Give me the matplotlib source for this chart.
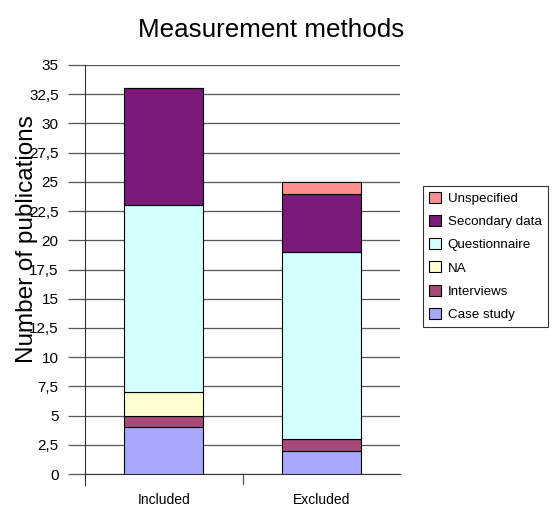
import numpy as np
import matplotlib
matplotlib.use('Agg')
from matplotlib import pyplot as plt
from matplotlib.ticker import MultipleLocator, FuncFormatter

plt.rcParams['font.family'] = ['Liberation Sans', 'DejaVu Sans']

categories = ['Included', 'Excluded']
methods = ['Case study', 'Interviews', 'NA', 'Questionnaire', 'Secondary data', 'Unspecified']
counts = {
    'Case study':     [4, 2],
    'Interviews':     [1, 1],
    'NA':             [2, 0],
    'Questionnaire':  [16, 16],
    'Secondary data': [10, 5],
    'Unspecified':    [0, 1],
}
colors = ['#A8A8FF', '#A84A78', '#FFFFD0', '#D2FFFF', '#7B1A78', '#FF8F8F']

fig = plt.figure(figsize=(5.58, 5.09), dpi=100)
ax = fig.add_axes([85 / 558, 35 / 509, 315 / 558, 409 / 509])

x = np.arange(len(categories))
bottom = np.zeros(len(categories))
handles = []
for name, col in zip(methods, colors):
    vals = np.array(counts[name], dtype=float)
    b = ax.bar(x, vals, width=0.5, bottom=bottom, color=col, edgecolor='black',
               linewidth=0.8, label=name, zorder=3)
    handles.append(b)
    bottom += vals

ax.set_xlim(-0.5, 1.5)
ax.set_ylim(0, 35)
ax.yaxis.set_major_locator(MultipleLocator(2.5))
ax.yaxis.set_major_formatter(FuncFormatter(lambda v, p: ('%g' % v).replace('.', ',')))
ax.grid(axis='y', color='#555555', linewidth=0.9, zorder=0)
ax.set_axisbelow(True)

ax.set_xticks(x)
ax.set_xticklabels(categories, fontsize=10)
ax.tick_params(axis='x', length=0, pad=14)
# divider tick between the two categories
ax.plot([0.5, 0.5], [0, -0.025], transform=ax.get_xaxis_transform(),
        color='#555555', linewidth=0.9, clip_on=False)

ax.tick_params(axis='y', labelsize=11, length=12, width=0.9, color='#555555', pad=7)
for s in ['top', 'right']:
    ax.spines[s].set_visible(False)
ax.spines['left'].set_color('#333333')
ax.spines['bottom'].set_color('#333333')
ax.spines['left'].set_bounds(-0.9, 35)

ax.set_ylabel('Number of publications', fontsize=17.5)
ax.yaxis.set_label_coords(-0.149, 0.575)
fig.text(271 / 558, 1 - 30 / 509, 'Measurement methods', fontsize=18.7,
         ha='center', va='center')

leg = fig.legend(handles[::-1], methods[::-1], loc='upper left',
                 bbox_to_anchor=(423 / 558, 1 - 186 / 509), fontsize=9.6,
                 frameon=True, fancybox=False, edgecolor='black',
                 handlelength=0.9, handleheight=0.9, handletextpad=0.5,
                 labelspacing=0.75, borderpad=0.45, borderaxespad=0)
leg.get_frame().set_linewidth(0.8)

fig.savefig('out.png', dpi=100)
